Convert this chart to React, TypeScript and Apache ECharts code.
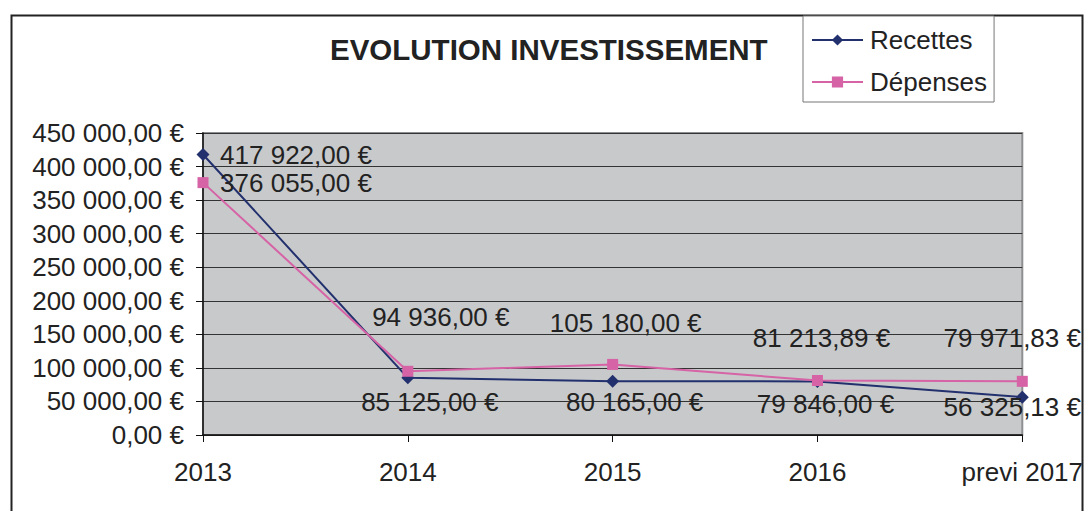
import React, { useEffect, useRef } from "react";
import * as echarts from "echarts";

const categories = ["2013", "2014", "2015", "2016", "previ 2017"];
const recettes = [417922.0, 85125.0, 80165.0, 79846.0, 56325.13];
const depenses = [376055.0, 94936.0, 105180.0, 81213.89, 79971.83];
const yTicks = { min: 0, max: 450000, interval: 50000 };

// label offsets (styling only): [dx, dy] from the point centre
const recettesLabelOffsets = [[93, 0], [22, 24], [22, 21], [8, 23], [-10, 10]];
const depensesLabelOffsets = [[93, 0], [33, -54], [13, -41], [4, -42], [-10, -43]];

const fmt = (v: number) => {
  const fixed = Math.abs(v).toFixed(2);
  const [ip, dp] = fixed.split(".");
  const withSep = ip.replace(/\B(?=(\d{3})+(?!\d))/g, " ");
  return (v < 0 ? "-" : "") + withSep + "," + dp + " €";
};

const FONT = "Liberation Sans, Arial, sans-serif";
const TXT = "#222";

export default function App() {
  const ref = useRef<HTMLDivElement>(null);
  useEffect(() => {
    if (!ref.current) return;
    const chart = echarts.init(ref.current, null, { renderer: "svg" });
    const mk = (vals: number[], offs: number[][]) =>
      vals.map((v, i) => ({
        value: v,
        label: {
          show: true,
          position: "inside",
          offset: offs[i],
          formatter: (p: any) => fmt(p.value),
          color: TXT,
          fontSize: 26,
          fontFamily: FONT,
          textBorderWidth: 0,
        },
      }));
    chart.setOption({
      animation: false,
      backgroundColor: "#ffffff",
      textStyle: { fontFamily: FONT, color: TXT },
      title: {
        text: "EVOLUTION INVESTISSEMENT",
        left: 330,
        top: 34,
        padding: 0,
        textStyle: { fontSize: 29.5, fontWeight: "bold", color: TXT, fontFamily: FONT },
      },
      legend: {
        orient: "vertical",
        left: 803,
        top: 16,
        padding: [9, 7, 5, 8],
        itemGap: 12,
        itemWidth: 51,
        itemHeight: 14,
        backgroundColor: "#ffffff",
        borderColor: "#777777",
        borderWidth: 1,
        textStyle: { fontSize: 26, color: TXT, fontFamily: FONT, lineHeight: 30, padding: [0, 0, 0, 2] },
        data: ["Recettes", "Dépenses"],
      },
      grid: {
        left: 203,
        top: 133,
        width: 820,
        height: 302,
        show: true,
        backgroundColor: "#c8c9cb",
        borderColor: "#8e8f91",
        borderWidth: 2,
        containLabel: false,
      },
      xAxis: {
        type: "category",
        data: categories,
        boundaryGap: false,
        axisLine: { lineStyle: { color: "#111", width: 1.5 } },
        axisTick: { show: true, length: 7, lineStyle: { color: "#111" } },
        axisLabel: { fontSize: 26, color: TXT, fontFamily: FONT, margin: 24, interval: 0 },
        splitLine: { show: false },
      },
      yAxis: {
        type: "value",
        min: yTicks.min,
        max: yTicks.max,
        interval: yTicks.interval,
        axisLine: { show: true, lineStyle: { color: "#111", width: 1.5 } },
        axisTick: { show: true, length: 7, lineStyle: { color: "#111" } },
        axisLabel: { fontSize: 26, color: TXT, fontFamily: FONT, margin: 19, formatter: (v: number) => fmt(v) },
        splitLine: { show: true, lineStyle: { color: "#333333", width: 1 } },
      },
      graphic: [
        {
          type: "rect",
          left: 9,
          top: 13,
          z: -10,
          shape: { width: 1071, height: 600 },
          style: { fill: "none", stroke: "#222222", lineWidth: 2 },
          silent: true,
        },
      ],
      series: [
        {
          name: "Recettes",
          type: "line",
          data: mk(recettes, recettesLabelOffsets),
          symbol: "diamond",
          symbolSize: 13,
          lineStyle: { color: "#22306e", width: 2 },
          itemStyle: { color: "#22306e" },
          color: "#22306e",
          z: 2,
        },
        {
          name: "Dépenses",
          type: "line",
          data: mk(depenses, depensesLabelOffsets),
          symbol: "rect",
          symbolSize: 11,
          lineStyle: { color: "#d663a6", width: 2 },
          itemStyle: { color: "#d663a6" },
          color: "#d663a6",
          z: 3,
        },
      ],
    });
    return () => chart.dispose();
  }, []);
  return (
    <div
      ref={ref}
      style={{ position: "absolute", left: 0, top: 0, width: 1086, height: 511 }}
    />
  );
}
